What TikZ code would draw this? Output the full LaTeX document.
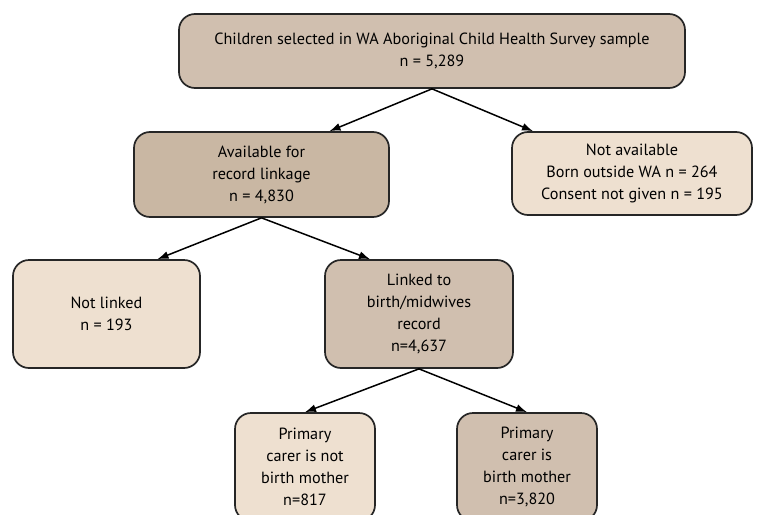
\documentclass[tikz,border=0pt]{standalone}
\usepackage{fontspec}
\setmainfont{PT Sans}
\usepackage{xcolor}
\usetikzlibrary{arrows.meta}

\definecolor{darktan}{HTML}{D0BFAF}
\definecolor{midtan}{HTML}{C9B7A3}
\definecolor{lighttan}{HTML}{EEE0D0}

\begin{document}
\begin{tikzpicture}[x=1pt, y=-1pt,
    box/.style={draw=black!85, line width=1.7pt, rounded corners=16pt,
                align=center, font=\fontsize{16.2}{22}\selectfont, inner sep=0pt},
    dark/.style={box, fill=darktan},
    light/.style={box, fill=lighttan},
    flow/.style={-{Latex[length=11pt, width=8pt]}, line width=1.5pt}]
      \clip (0, 0) rectangle (757, 514);
      \useasboundingbox (0, 0) rectangle (757, 514);
      \node[dark, minimum width=506pt, minimum height=74pt] (sample) at (432, 51)
          {Children selected in WA Aboriginal Child Health Survey sample\\ n = 5,289};
      \node[box, fill=midtan, minimum width=255pt, minimum height=85pt] (avail) at (261.5, 174.5)
          {Available for\\ record linkage\\ n = 4,830};
      \node[light, minimum width=240pt, minimum height=83pt] (notavail) at (632, 173.5)
          {Not available\\ Born outside WA n = 264\\ Consent not given n = 195};
      \node[light, minimum width=187pt, minimum height=108pt] (notlinked) at (106.5, 314)
          {Not linked\\ n = 193};
      \node[dark, minimum width=188pt, minimum height=108pt] (linked) at (419, 314)
          {Linked to\\ birth/midwives\\ record\\ n=4,637};
      \node[light, minimum width=140pt, minimum height=108pt] (notmother) at (305, 467)
          {Primary\\ carer is not\\ birth mother\\ n=817};
      \node[dark, minimum width=140pt, minimum height=108pt] (mother) at (527, 467)
          {Primary\\ carer is\\ birth mother\\ n=3,820};
      % arrows end on the top edge of each box
      \draw[flow] (sample.south) -- ([xshift=68pt]avail.north);
      \draw[flow] (sample.south) -- ([xshift=-99pt]notavail.north);
      \draw[flow] (avail.south)  -- ([xshift=51pt]notlinked.north);
      \draw[flow] (avail.south)  -- ([xshift=-49pt]linked.north);
      \draw[flow] (linked.south) -- (notmother.north);
      \draw[flow] (linked.south) -- (mother.north);
\end{tikzpicture}
\end{document}
